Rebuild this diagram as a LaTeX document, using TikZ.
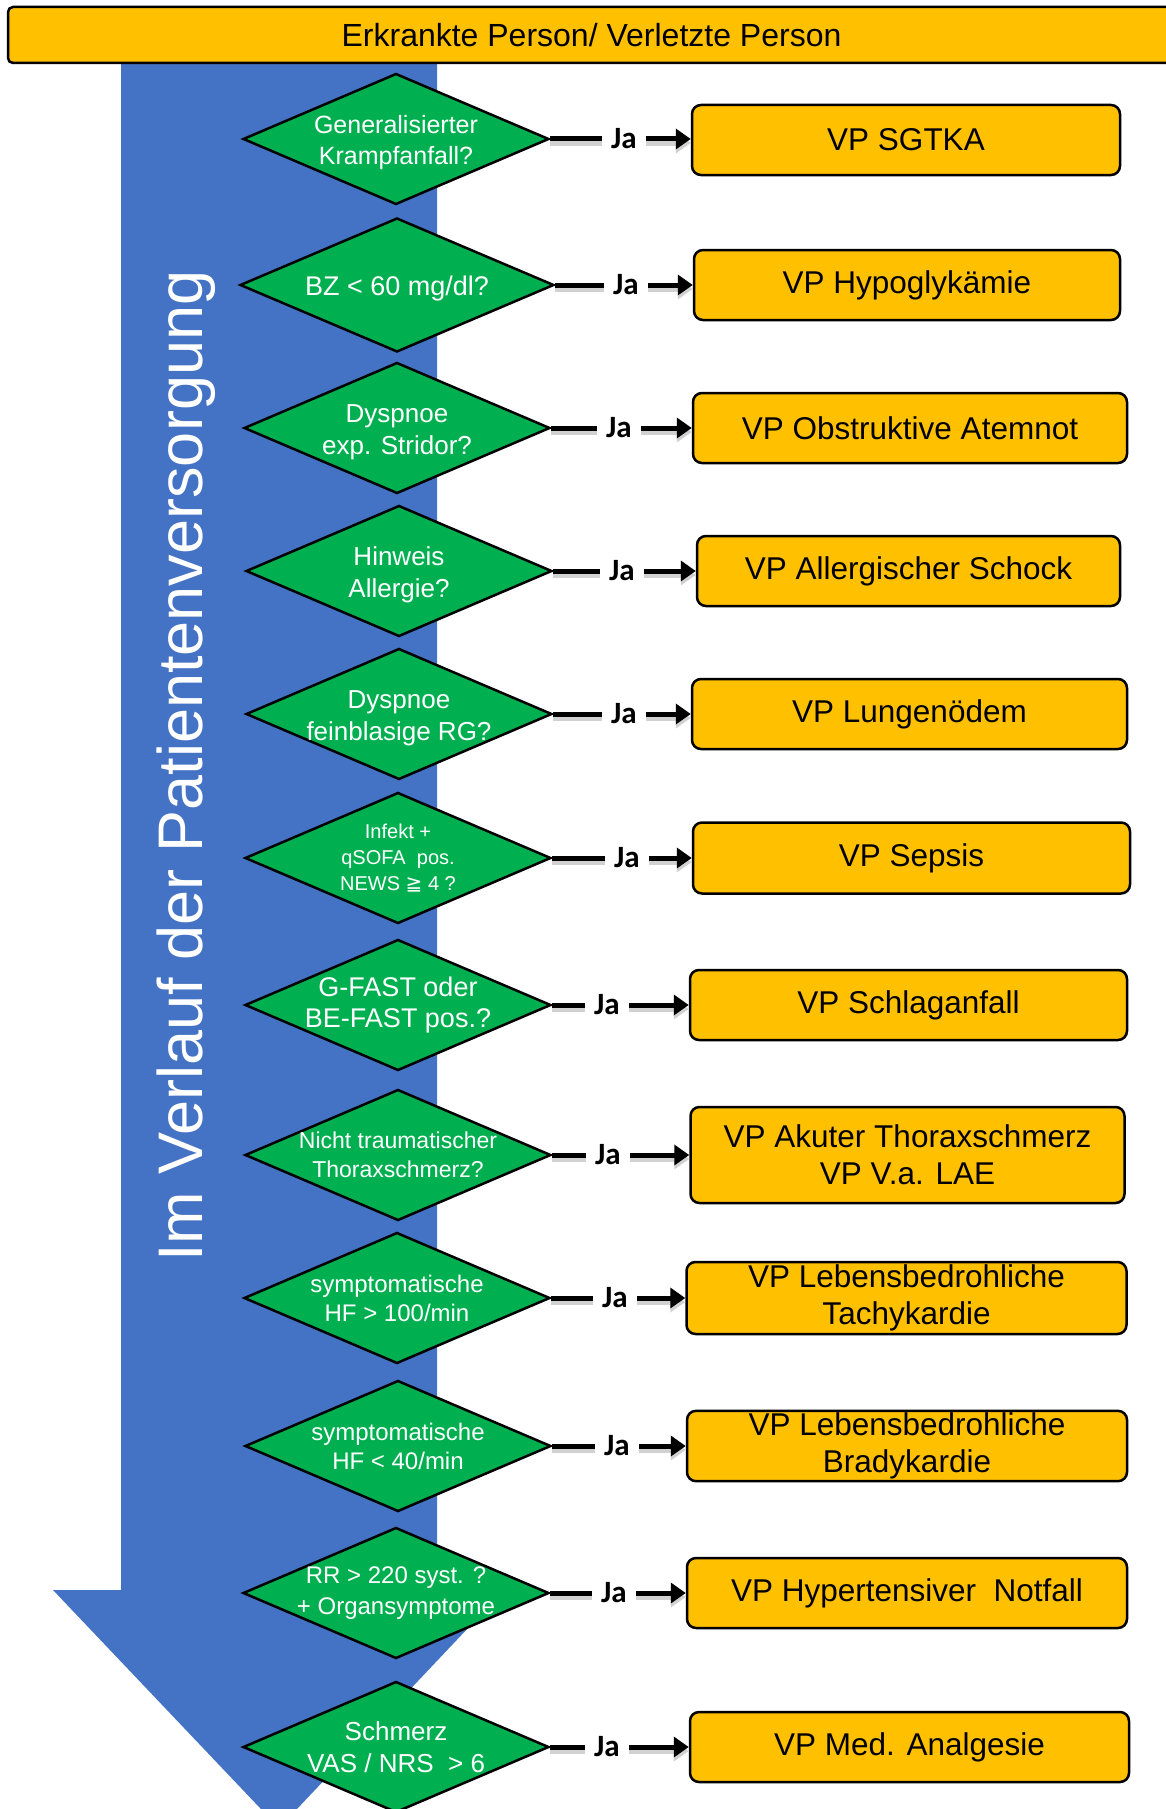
\documentclass[tikz,border=0pt]{standalone}
\usepackage{fontspec}
\setmainfont{Liberation Sans}
\newfontfamily\jafont{Carlito}
\newfontfamily\symbfont{DejaVu Sans}
\usetikzlibrary{shapes.geometric,arrows.meta}
\definecolor{vpyellow}{HTML}{FFC000}
\definecolor{askgreen}{HTML}{00B050}
\definecolor{flowblue}{HTML}{4472C4}

\begin{document}
\begin{tikzpicture}[x=1pt,y=-1pt]
\tikzstyle{decision}=[diamond,draw=black,line width=2.5pt,fill=askgreen,inner sep=0pt,minimum width=306pt,minimum height=131pt]
\tikzstyle{question}=[text=white,align=center,inner sep=0pt,font=\fontsize{25}{31}\selectfont]
\tikzstyle{lowered}=[yshift=-4pt]
\tikzstyle{vp}=[rectangle,rounded corners=9pt,draw=black,line width=2.5pt,fill=vpyellow,minimum height=70pt,inner ysep=2pt,align=center,font=\fontsize{31.5}{37}\selectfont]
\tikzstyle{ja}=[inner xsep=9pt,inner ysep=0pt,font=\jafont\bfseries\fontsize{31}{36}\selectfont]
\tikzstyle{yes}=[line width=5pt,preaction={draw=black!18,line width=6pt,transform canvas={yshift=-4pt}}]
\tikzstyle{yesarrow}=[yes,-{Triangle[length=15pt,width=20pt]}]

\useasboundingbox (0,0) rectangle (1166,1809);
\clip (0,0) rectangle (1166,1809);

\fill [flowblue] (121,50) -- (437,50) -- (437,1590) -- (504,1590) -- (279,1828) -- (53,1590) -- (121,1590) -- cycle;
\node [rotate=90,anchor=base west,inner sep=0pt,text=white,font=\fontsize{63}{63}\selectfont] at (202,1262) (course) {Im Verlauf der Patientenversorgung};

\node [rectangle,rounded corners=5pt,draw=black,line width=2.5pt,fill=vpyellow,minimum width=1167pt,minimum height=56pt,font=\fontsize{32}{36}\selectfont] at (591.5,35) (patient) {Erkrankte Person/ Verletzte Person};

\node [decision] at (396,139) (d1) {};
\node [question,lowered] at (d1) (q1) {Generalisierter\\Krampfanfall?};
\node [ja] at (624,139) (ja1) {Ja};
\node [vp,minimum width=428pt] at (906,140) (vp1) {VP SGTKA};
\draw [yes] (d1.east) -- (ja1.west);
\draw [yesarrow] (ja1.east) -- (vp1.west |- ja1.east);

\node [decision,minimum width=314pt,minimum height=134pt] at (397,285) (d2) {};
\node [question,lowered,font=\fontsize{27}{31}\selectfont] at (d2) (q2) {BZ < 60 mg/dl?};
\node [ja] at (626,285) (ja2) {Ja};
\node [vp,minimum width=426pt] at (907,285) (vp2) {VP Hypoglykämie};
\draw [yes] (d2.east) -- (ja2.west);
\draw [yesarrow] (ja2.east) -- (vp2.west);

\node [decision] at (397,428) (d3) {};
\node [question,lowered,font=\fontsize{26}{32}\selectfont] at (d3) (q3) {Dyspnoe\\exp. Stridor?};
\node [ja] at (619,428) (ja3) {Ja};
\node [vp,minimum width=434pt] at (910,428) (vp3) {VP Obstruktive Atemnot};
\draw [yes] (d3.east) -- (ja3.west);
\draw [yesarrow] (ja3.east) -- (vp3.west);

\node [decision] at (399,571) (d4) {};
\node [question,lowered,font=\fontsize{26}{32}\selectfont] at (d4) (q4) {Hinweis\\Allergie?};
\node [ja] at (622,571) (ja4) {Ja};
\node [vp,minimum width=423pt] at (908.5,571) (vp4) {VP Allergischer Schock};
\draw [yes] (d4.east) -- (ja4.west);
\draw [yesarrow] (ja4.east) -- (vp4.west);

\node [decision] at (399,714) (d5) {};
\node [question,lowered,font=\fontsize{26}{32}\selectfont] at (d5) (q5) {Dyspnoe\\feinblasige RG?};
\node [ja] at (624,714) (ja5) {Ja};
\node [vp,minimum width=435pt] at (909.5,714) (vp5) {VP Lungenödem};
\draw [yes] (d5.east) -- (ja5.west);
\draw [yesarrow] (ja5.east) -- (vp5.west);

\node [decision] at (398,858) (d6) {};
\node [question,font=\fontsize{20}{26}\selectfont] at (d6) (q6) {Infekt +\\qSOFA\ \ pos.\\NEWS {\symbfont ≧} 4 ?};
\node [ja] at (627,858) (ja6) {Ja};
\node [vp,minimum width=437pt,minimum height=71pt] at (911.5,858) (vp6) {VP Sepsis};
\draw [yes] (d6.east) -- (ja6.west);
\draw [yesarrow] (ja6.east) -- (vp6.west);

\node [decision] at (398,1005) (d7) {};
\node [question,font=\fontsize{27}{31}\selectfont] at (d7) (q7) {G-FAST oder\\BE-FAST pos.?};
\node [ja] at (607,1005) (ja7) {Ja};
\node [vp,minimum width=437pt] at (908.5,1005) (vp7) {VP Schlaganfall};
\draw [yes] (d7.east) -- (ja7.west);
\draw [yesarrow] (ja7.east) -- (vp7.west);

\node [decision] at (398,1155) (d8) {};
\node [question,font=\fontsize{23}{29}\selectfont] at (d8) (q8) {Nicht traumatischer\\Thoraxschmerz?};
\node [ja] at (608,1155) (ja8) {Ja};
\node [vp,minimum width=434pt,minimum height=96pt] at (907.5,1155) (vp8) {VP Akuter Thoraxschmerz\\VP V.a. LAE};
\draw [yes] (d8.east) -- (ja8.west);
\draw [yesarrow] (ja8.east) -- (vp8.west);

\node [decision] at (397,1298) (d9) {};
\node [question,font=\fontsize{24}{29}\selectfont] at (d9) (q9) {symptomatische\\HF > 100/min};
\node [ja] at (615,1298) (ja9) {Ja};
\node [vp,minimum width=440pt,minimum height=72pt] at (906.5,1298) (vp9) {VP Lebensbedrohliche\\Tachykardie};
\draw [yes] (d9.east) -- (ja9.west);
\draw [yesarrow] (ja9.east) -- (vp9.west);

\node [decision] at (398,1446) (d10) {};
\node [question,font=\fontsize{24}{29}\selectfont] at (d10) (q10) {symptomatische\\HF < 40/min};
\node [ja] at (617,1446) (ja10) {Ja};
\node [vp,minimum width=440pt] at (907,1446) (vp10) {VP Lebensbedrohliche\\Bradykardie};
\draw [yes] (d10.east) -- (ja10.west);
\draw [yesarrow] (ja10.east) -- (vp10.west);

\node [decision] at (396,1593) (d11) {};
\node [question,font=\fontsize{24}{31}\selectfont] at (d11) (q11) {RR > 220 syst. ?\\+ Organsymptome};
\node [ja] at (614,1593) (ja11) {Ja};
\node [vp,minimum width=440pt] at (907,1593) (vp11) {VP Hypertensiver\ \ Notfall};
\draw [yes] (d11.east) -- (ja11.west);
\draw [yesarrow] (ja11.east) -- (vp11.west);

\node [decision] at (396,1747) (d12) {};
\node [question,font=\fontsize{26}{32}\selectfont] at (d12) (q12) {Schmerz\\VAS / NRS\ \ > 6};
\node [ja] at (607,1747) (ja12) {Ja};
\node [vp,minimum width=439pt] at (909.5,1747) (vp12) {VP Med. Analgesie};
\draw [yes] (d12.east) -- (ja12.west);
\draw [yesarrow] (ja12.east) -- (vp12.west);
\end{tikzpicture}
\end{document}
